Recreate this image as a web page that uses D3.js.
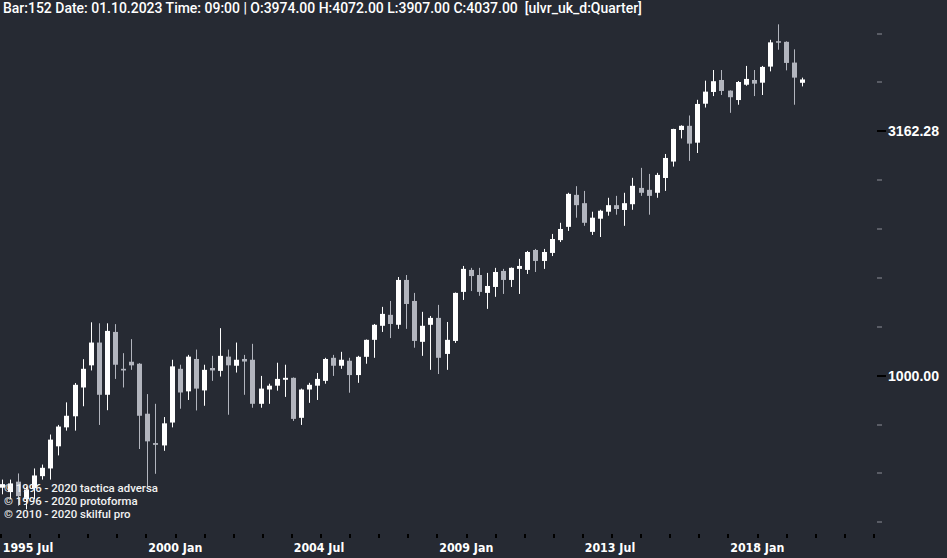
<!DOCTYPE html>
<html><head><meta charset="utf-8">
<script src="https://cdn.jsdelivr.net/npm/d3@7"></script>
<style>html,body{margin:0;padding:0;background:#262a33;overflow:hidden}</style>
</head><body>
<svg id="chart" width="947" height="558"></svg>
<script>
// ---- data (quarterly bars, bar numbers 53..152) ----
const barNumbers = d3.range(53, 153);
const open = [590,578,607,559,589,623,646,717,784,826, 946,1050,1169,914,1229,1033,1068,1058,836,728,
  720,802,1033,929,1082,933,1037,1023,1094,1048, 1082,1078,876,937,954,981,990,820,937,954,
  976,1088,1048,1073,1003,1093,1184,1265,1332,1271, 1570,1422,1173,1271,1313,1108,1178,1484,1646,1607,
  1477,1519,1638,1570,1654,1646,1808,1717,1783,1894, 2016,2344,2254,1969,2095,2165,2233,2183,2243,2422,
  2400,2367,2538,2742,3182,3245,2997,3601,3806,4027, 3830,3664,3938,4027,3976,4289,4834,4820,4371,3974];
const high = [613,613,631,593,646,658,758,793,882,966, 1081,1286,1280,1280,1275,1112,1188,1061,917,876,
  823,1078,1053,1103,1131,1053,1098,1251,1131,1169, 1103,1162,999,963,1063,1053,992,941,967,1013,
  1088,1103,1119,1088,1098,1186,1276,1383,1422,1592, 1607,1477,1351,1325,1396,1288,1480,1677,1662,1662,
  1623,1662,1654,1665,1734,1800,1817,1817,1950,2055, 2367,2442,2388,2165,2185,2312,2333,2367,2540,2662,
  2587,2600,2842,3200,3253,3407,3668,4014,4221,4221, 3835,4008,4303,4221,4303,4866,5234,4831,4652,4072];
const low = [572,559,542,533,559,613,613,687,772,772, 866,1025,793,850,985,946,1028,708,593,630,
  702,784,856,892,849,868,976,996,832,1015, 914,860,860,876,932,905,808,793,880,892,
  963,999,1033,923,967,1058,1088,1229,1194,1247, 1247,1141,1098,1028,1008,1028,1167,1429,1490,1457,
  1370,1450,1470,1519,1470,1615,1630,1654,1757,1877, 1978,2105,2026,1941,1922,2125,2135,2026,2185,2333,
  2135,2312,2388,2678,3058,2751,2855,3537,3733,3752, 3450,3584,3919,3733,3752,4194,4644,4214,3584,3907];
const close = [600,602,567,585,625,648,740,787,828,958, 1033,1169,914,1235,1053,1025,1050,828,734,722,
  799,1045,924,1094,941,1028,1025,1098,1050,1078, 1069,876,941,954,985,990,816,937,958,985,
  1082,1048,1078,1003,1093,1184,1271,1338,1276,1570, 1402,1178,1265,1313,1088,1184,1477,1654,1599,1484,
  1526,1630,1570,1662,1677,1791,1717,1791,1904,1996, 2355,2233,2055,2105,2175,2233,2193,2254,2446,2367,
  2333,2575,2789,3197,3245,2984,3597,3812,4004,3824, 3713,3989,4047,3958,4283,4808,4811,4364,4072,4037];

const xTickLabels = ["1995 Jul","2000 Jan","2004 Jul","2009 Jan","2013 Jul","2018 Jan"];
const xTickYears = [1995.5, 2000.0, 2004.5, 2009.0, 2013.5, 2018.0];
const yLabelValues = [1000, 3162.2777];
const headerText = "Bar:152 Date: 01.10.2023 Time: 09:00 | O:3974.00 H:4072.00 L:3907.00 C:4037.00  [ulvr_uk_d:Quarter]";
const credits = ["© 1996 - 2020 tactica adversa", "© 1996 - 2020 protoforma", "© 2010 - 2020 skilful pro"];

// ---- styles ----
const BG = "#262a33", UP = "#ffffff", DOWN = "#b2b5be";

const svg = d3.select("#chart");
svg.append("rect").attr("width", 947).attr("height", 558).attr("fill", BG);

const x = d3.scaleLinear().domain([53, 152]).range([1.8, 802.3]);
const y = d3.scaleLog().domain([1000, 3162.2777]).range([375.7, 131.3]);
const xYear = d3.scaleLinear().domain([1995.5, 2018.0]).range([0.9, 728.4]);

const bars = barNumbers.map((b, i) => ({b, o: open[i], h: high[i], l: low[i], c: close[i]}));

const g = svg.append("g");
const cg = g.selectAll("g.c").data(bars).join("g").attr("class", "c");
cg.append("rect")
  .attr("x", d => Math.round(x(d.b)))
  .attr("width", 1)
  .attr("y", d => y(d.h))
  .attr("height", d => Math.max(1, y(d.l) - y(d.h)))
  .attr("fill", d => d.c >= d.o ? UP : DOWN);
cg.append("rect")
  .attr("x", d => Math.round(x(d.b)) - 2)
  .attr("width", 5)
  .attr("y", d => y(Math.max(d.o, d.c)))
  .attr("height", d => Math.max(1.5, Math.abs(y(d.o) - y(d.c))))
  .attr("fill", d => d.c >= d.o ? UP : DOWN);

// ---- y axis (right) ----
const yTicks = d3.range(0, 11).map(k => Math.pow(10, 2.7 + 0.1 * k));
svg.append("g").selectAll("rect").data(yTicks).join("rect")
  .attr("x", 877).attr("width", 5)
  .attr("y", d => Math.round(y(d)) - 0.5).attr("height", 1)
  .attr("fill", "#8b8e97");
const fmt = d3.format(".2f");
const yl = svg.append("g");
yl.selectAll("rect").data(yLabelValues).join("rect")
  .attr("x", 877).attr("width", 9)
  .attr("y", d => Math.round(y(d)) - 1).attr("height", 2)
  .attr("fill", "#000");
const ylt = yl.selectAll("text").data(yLabelValues).join("text")
  .attr("x", 888).attr("y", d => y(d)).attr("dy", "0.36em")
  .attr("fill", "#fff").attr("font-family", "'Liberation Sans', Arial, sans-serif")
  .attr("font-weight", "bold").attr("font-size", 13)
  .text(d => fmt(d));

// ---- x axis (bottom) ----
const xMinor = d3.range(0, 31).map(k => 1995.5 + 0.9 * k);
svg.append("g").selectAll("rect").data(xMinor).join("rect")
  .attr("x", d => Math.round(xYear(d)) - 1).attr("width", 2)
  .attr("y", 534).attr("height", 4).attr("fill", "#000");
const xl = svg.append("g").selectAll("text").data(xTickYears).join("text")
  .attr("x", d => xYear(d) + 1.8).attr("y", 552)
  .attr("fill", "#fff").attr("font-family", "'DejaVu Sans Condensed', 'DejaVu Sans', sans-serif")
  .attr("font-stretch", "condensed")
  .attr("font-weight", "bold").attr("font-size", 12)
  .text((d, i) => xTickLabels[i]);

// ---- credits ----
const cr = svg.append("g").selectAll("text").data(credits).join("text")
  .attr("x", 4).attr("y", (d, i) => 492 + i * 13)
  .attr("fill", "#f2f2f2").attr("font-family", "Roboto, sans-serif")
  .attr("font-size", 11).attr("font-weight", 500)
  .text(d => d);

// ---- header ----
const ht = svg.append("text").attr("x", 3).attr("y", 12.5)
  .attr("fill", "#fff").attr("font-family", "Roboto, sans-serif")
  .attr("font-size", 12).attr("font-weight", 500).style("white-space", "pre")
  .text(headerText);

// fit font sizes to the measured widths of the reference text
function fitSize(sel, node, target) {
  const w = node.getComputedTextLength();
  const fs = parseFloat(sel.attr("font-size"));
  sel.attr("font-size", (fs * target / w).toFixed(2));
}
fitSize(ht, ht.node(), 639);
fitSize(cr, cr.nodes()[0], 154);
fitSize(xl, xl.nodes()[0], 50.5);
fitSize(ylt, ylt.nodes()[1], 51);
</script>
</body></html>
